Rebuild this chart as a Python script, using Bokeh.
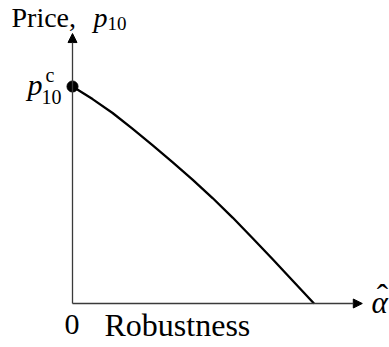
from bokeh.plotting import figure
from bokeh.models import Range1d, Arrow, NormalHead, Label
from bokeh.embed import file_html
from bokeh.resources import INLINE

# Data (normalised: p10^c = 1, curve hits axis at alpha = 1)
alpha = [0.0, 0.083, 0.166, 0.248, 0.331, 0.414, 0.497, 0.580, 0.663, 0.745, 0.828, 0.911, 1.0]
price = [1.0, 0.942, 0.878, 0.806, 0.730, 0.652, 0.571, 0.486, 0.396, 0.302, 0.205, 0.106, 0.0]

x_axis_end = 1.20
y_axis_end = 1.244

W, H = 389, 347
# page-pixel -> data helpers (layout only)
X0, XS = 72.0, 241.5
Y0, YS = 303.0, 217.0
def px(x):
    return (x - X0) / XS
def py(y):
    return (Y0 - y) / YS

p = figure(width=W, height=H, output_backend="svg", toolbar_location=None,
           x_axis_type=None, y_axis_type=None, min_border=0,
           x_range=Range1d(px(0), px(W)), y_range=Range1d(py(H), py(0)))
p.outline_line_color = None
p.background_fill_color = "white"

axis_col = "#3a3a3a"
p.add_layout(Arrow(x_start=0, y_start=0, x_end=0, y_end=y_axis_end,
                   line_color=axis_col, line_width=1.3,
                   end=NormalHead(size=9, fill_color="black", line_color="black", line_width=1)))
p.add_layout(Arrow(x_start=0, y_start=0, x_end=x_axis_end, y_end=0,
                   line_color=axis_col, line_width=1.3,
                   end=NormalHead(size=9, fill_color="black", line_color="black", line_width=1)))

p.line(alpha, price, line_color="black", line_width=2.3, line_join="round")
p.scatter([alpha[0]], [price[0]], size=11, color="black")

FONT = "Liberation Serif"
def lab(x, y, text, size, style="normal", align="left"):
    p.add_layout(Label(x=px(x), y=py(y), text=text, text_font=FONT,
                       text_font_size=f"{size}px", text_font_style=style,
                       text_align=align, text_baseline="alphabetic",
                       y_offset=round(0.29 * size), text_color="black"))

# y-axis title
lab(11, 25, "Price,", 28)
lab(93, 25, "p", 28, "italic")
lab(107, 29, "10", 19)
# p10^c tick
lab(27, 93, "p", 30, "italic")
lab(41, 102, "10", 20)
lab(45, 80, "c", 20)
# x-axis
lab(71.5, 333, "0", 30, align="center")
lab(104, 333, "Robustness", 32)
lab(371, 311, "α", 31, "italic")
lab(382, 306, "ˆ", 34, align="center")

open("out.html", "w").write(file_html(p, INLINE))
